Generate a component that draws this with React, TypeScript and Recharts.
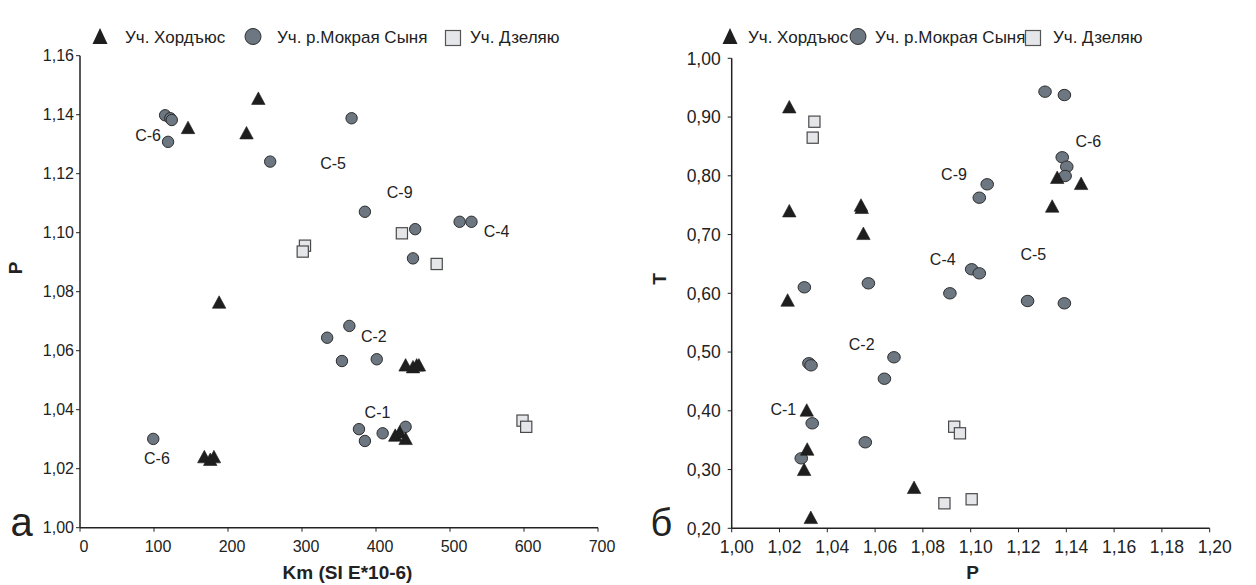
import React from 'react';
import { ScatterChart, Scatter, XAxis, YAxis } from 'recharts';

const FONT = '"Liberation Sans", Arial, Helvetica, sans-serif';
const INK = '#222222';

// ---------- Panel а: Km (SI E*10-6) vs P ----------
const kmTicks = [0, 100, 200, 300, 400, 500, 600, 700];
const pTicksA = [1.0, 1.02, 1.04, 1.06, 1.08, 1.1, 1.12, 1.14, 1.16];

const aKhordyus: [number, number][] = [
  [146, 1.1357], [241, 1.1456], [225, 1.1339], [188, 1.0765],
  [168, 1.0241], [176, 1.0232], [181, 1.0241],
  [440, 1.0552], [450, 1.0546], [455, 1.0552], [458, 1.0552],
  [426, 1.0314], [432, 1.0325], [440, 1.0303],
];
const aMokraya: [number, number][] = [
  [115, 1.1398], [122, 1.1388], [124, 1.1382], [119, 1.1308],
  [257, 1.1241], [367, 1.1388], [385, 1.1071], [453, 1.1012],
  [513, 1.1037], [529, 1.1037], [450, 1.0913],
  [334, 1.0644], [364, 1.0684], [354, 1.0565], [401, 1.0571],
  [377, 1.0334], [385, 1.0294], [409, 1.032], [440, 1.0342],
  [99, 1.0301],
];
const aDzelyayu: [number, number][] = [
  [304, 1.0956], [301, 1.0936], [435, 1.0998], [482, 1.0894],
  [598, 1.0363], [603, 1.0342],
];
const aLabelText = ['C-6', 'C-5', 'C-9', 'C-4', 'C-2', 'C-1', 'C-6'];
const aLabelPos: [number, number][] = [
  [92, 1.1331], [342, 1.1235], [432, 1.1137], [563, 1.1003],
  [397, 1.0647], [402, 1.039], [104, 1.0235],
];

// ---------- Panel б: P vs T ----------
const pTicksB = [1.0, 1.02, 1.04, 1.06, 1.08, 1.1, 1.12, 1.14, 1.16, 1.18, 1.2];
const tTicks = [0.2, 0.3, 0.4, 0.5, 0.6, 0.7, 0.8, 0.9, 1.0];

const bKhordyus: [number, number][] = [
  [1.0241, 0.9176], [1.0241, 0.7406], [1.0541, 0.7503], [1.0544, 0.7464],
  [1.0551, 0.7021], [1.0234, 0.5886], [1.1362, 0.7975], [1.1462, 0.7872],
  [1.1341, 0.7486], [1.0314, 0.4014], [1.0316, 0.335], [1.0303, 0.3004],
  [1.0763, 0.2698], [1.0331, 0.2187],
];
const bMokraya: [number, number][] = [
  [1.0304, 0.6102], [1.0572, 0.617], [1.1311, 0.9432], [1.1392, 0.9375],
  [1.1383, 0.8315], [1.1402, 0.8155], [1.1395, 0.7997], [1.1069, 0.7855],
  [1.1036, 0.7627], [1.1004, 0.6409], [1.1036, 0.634], [1.0913, 0.6],
  [1.1238, 0.5869], [1.1392, 0.583], [1.0679, 0.4911], [1.0639, 0.4546],
  [1.0323, 0.4809], [1.0332, 0.4774], [1.0337, 0.3787], [1.0559, 0.3464],
  [1.0291, 0.3191],
];
const bDzelyayu: [number, number][] = [
  [1.0346, 0.8921], [1.0339, 0.8649], [1.0931, 0.3729], [1.0955, 0.3617],
  [1.089, 0.2426], [1.1004, 0.2494],
];
const bLabelText = ['C-6', 'C-9', 'C-4', 'C-5', 'C-2', 'C-1'];
const bLabelPos: [number, number][] = [
  [1.1492, 0.858], [1.093, 0.8014], [1.0883, 0.6567], [1.1262, 0.6652],
  [1.0544, 0.5132], [1.0216, 0.4014],
];

const legendNames = ['Уч. Хордъюс', 'Уч. р.Мокрая Сыня', 'Уч. Дзеляю'];

const toPts = (arr: [number, number][]) => arr.map(([x, y]) => ({ x, y }));
const toLabels = (arr: [number, number][], names: string[]) =>
  arr.map(([x, y], i) => ({ x, y, name: names[i] }));

const comma = (v: number) => v.toFixed(2).replace('.', ',');

// ---------- marker shapes ----------
const TRI_FILL = '#1e1e1e';
const CIRC_FILL = '#6c7781';
const SQ_FILL = '#e5e6ea';

const Tri = (p: any) => {
  const { cx, cy } = p;
  const w = 13.5, h = 12.5;
  return (
    <path
      d={`M${cx},${cy - h / 2} L${cx + w / 2},${cy + h / 2} L${cx - w / 2},${cy + h / 2} Z`}
      fill={TRI_FILL}
      stroke={TRI_FILL}
      strokeWidth={0.6}
    />
  );
};
const Circ = (p: any) => (
  <circle cx={p.cx} cy={p.cy} r={5.7} fill={CIRC_FILL} stroke="#2d2d2d" strokeWidth={1} />
);
const Ell = (p: any) => (
  <ellipse cx={p.cx} cy={p.cy} rx={6.3} ry={5.7} fill={CIRC_FILL} stroke="#2d2d2d" strokeWidth={1} />
);
const Sq = (p: any) => (
  <rect x={p.cx - 5.6} y={p.cy - 5.6} width={11.2} height={11.2} fill={SQ_FILL} stroke="#4a4a4a" strokeWidth={1.2} />
);
const Lbl = (p: any) => (
  <text
    x={p.cx}
    y={p.cy}
    textAnchor="middle"
    dominantBaseline="central"
    fontFamily={FONT}
    fontSize={16}
    fill={INK}
  >
    {p.payload?.name ?? p.name}
  </text>
);

const axisLine = { stroke: INK, strokeWidth: 1.5 };
const tickLine = { stroke: INK, strokeWidth: 1 };

function PanelA() {
  return (
    <ScatterChart width={628} height={585} margin={{ top: 55.7, right: 30, bottom: 0, left: 0 }}>
      <XAxis
        type="number"
        dataKey="x"
        domain={[0, 700]}
        ticks={kmTicks}
        interval={0}
        tickFormatter={(v: number) => String(v)}
        height={57.3}
        axisLine={axisLine}
        tickLine={tickLine}
        tickSize={4}
        tickMargin={9}
        tick={{ fill: INK, fontSize: 16, fontFamily: FONT, dx: 4 }}
      />
      <YAxis
        type="number"
        dataKey="y"
        domain={[1.0, 1.16]}
        ticks={pTicksA}
        interval={0}
        tickFormatter={comma}
        width={80}
        axisLine={axisLine}
        tickLine={tickLine}
        tickSize={4}
        tickMargin={2}
        tick={{ fill: INK, fontSize: 16, fontFamily: FONT }}
      />
      <Scatter data={toPts(aMokraya)} shape={Circ} isAnimationActive={false} />
      <Scatter data={toPts(aDzelyayu)} shape={Sq} isAnimationActive={false} />
      <Scatter data={toPts(aKhordyus)} shape={Tri} isAnimationActive={false} />
      <Scatter data={toLabels(aLabelPos, aLabelText)} shape={Lbl} isAnimationActive={false} />
    </ScatterChart>
  );
}

function PanelB() {
  return (
    <ScatterChart width={628} height={585} margin={{ top: 58.3, right: 46.3, bottom: 0, left: 0 }}>
      <XAxis
        type="number"
        dataKey="x"
        domain={[1.0, 1.2]}
        ticks={pTicksB}
        interval={0}
        tickFormatter={comma}
        height={56.7}
        axisLine={axisLine}
        tickLine={tickLine}
        tickSize={4}
        tickMargin={8}
        tick={{ fill: INK, fontSize: 17.5, fontFamily: FONT, dx: 5 }}
      />
      <YAxis
        type="number"
        dataKey="y"
        domain={[0.2, 1.0]}
        ticks={tTicks}
        interval={0}
        tickFormatter={comma}
        width={103.7}
        axisLine={axisLine}
        tickLine={tickLine}
        tickSize={4}
        tickMargin={7}
        tick={{ fill: INK, fontSize: 17.5, fontFamily: FONT }}
      />
      <Scatter data={toPts(bMokraya)} shape={Ell} isAnimationActive={false} />
      <Scatter data={toPts(bDzelyayu)} shape={Sq} isAnimationActive={false} />
      <Scatter data={toPts(bKhordyus)} shape={Tri} isAnimationActive={false} />
      <Scatter data={toLabels(bLabelPos, bLabelText)} shape={Lbl} isAnimationActive={false} />
    </ScatterChart>
  );
}

function LegendRow({ tri, circ, sq }: { tri: [number, number, number]; circ: [number, number, number]; sq: [number, number, number] }) {
  const textStyle = { fontFamily: FONT, fontSize: 17, fill: INK } as const;
  return (
    <g>
      <path d={`M${tri[0]},${28} L${tri[0] + 7.5},${44} L${tri[0] - 7.5},${44} Z`} fill={TRI_FILL} />
      <text x={tri[1]} y={tri[2]} {...textStyle}>{legendNames[0]}</text>
      <circle cx={circ[0]} cy={36.5} r={8} fill={CIRC_FILL} stroke="#2d2d2d" strokeWidth={1} />
      <text x={circ[1]} y={circ[2]} {...textStyle}>{legendNames[1]}</text>
      <rect x={sq[0] - 7.5} y={30.5} width={15} height={15} fill={SQ_FILL} stroke="#555" strokeWidth={1.2} />
      <text x={sq[1]} y={sq[2]} {...textStyle}>{legendNames[2]}</text>
    </g>
  );
}

function Overlay() {
  const title = { fontFamily: FONT, fontSize: 19, fontWeight: 700, fill: INK } as const;
  return (
    <svg
      width={1256}
      height={585}
      style={{ position: 'absolute', left: 0, top: 0, pointerEvents: 'none' }}
    >
      <LegendRow tri={[100, 125, 42.5]} circ={[253, 277, 42.5]} sq={[453, 470, 42.5]} />
      <LegendRow tri={[730, 748, 42.5]} circ={[858, 875, 42.5]} sq={[1033, 1053, 42.5]} />
      <text x={347.5} y={579} textAnchor="middle" {...title}>Km (SI E*10-6)</text>
      <text x={972.7} y={579} textAnchor="middle" {...title}>P</text>
      <text
        x={0}
        y={0}
        textAnchor="middle"
        dominantBaseline="central"
        transform="translate(15.5,268) rotate(-90)"
        {...title}
      >
        P
      </text>
      <text
        x={0}
        y={0}
        textAnchor="middle"
        dominantBaseline="central"
        transform="translate(659,279) rotate(-90)"
        {...title}
      >
        Т
      </text>
      <text x={21.5} y={536} textAnchor="middle" fontFamily={FONT} fontSize={40} fill={INK}>а</text>
      <text x={661.5} y={536} textAnchor="middle" fontFamily={FONT} fontSize={38} fill={INK}>б</text>
    </svg>
  );
}

export default function App() {
  return (
    <div
      style={{
        position: 'absolute',
        left: 0,
        top: 0,
        width: 1256,
        height: 585,
        background: '#ffffff',
        overflow: 'hidden',
      }}
    >
      <div style={{ position: 'absolute', left: 0, top: 0 }}>
        <PanelA />
      </div>
      <div style={{ position: 'absolute', left: 628, top: 0 }}>
        <PanelB />
      </div>
      <Overlay />
    </div>
  );
}
